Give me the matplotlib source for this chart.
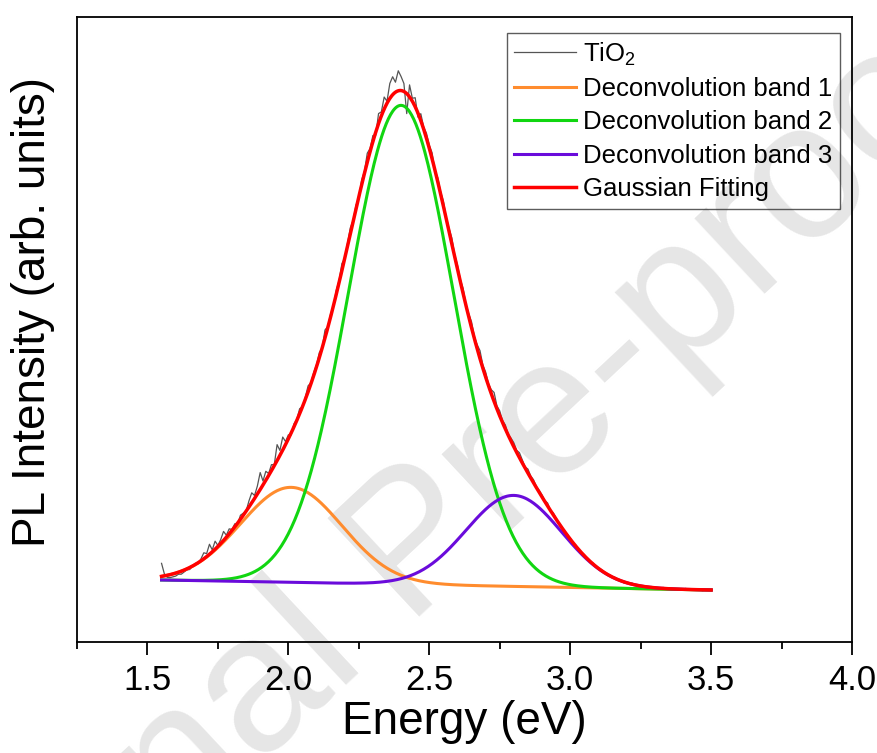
import numpy as np
import matplotlib
matplotlib.use('Agg')
import matplotlib.pyplot as plt
from matplotlib.ticker import MultipleLocator

plt.rcParams['font.family'] = ['Liberation Sans', 'DejaVu Sans']
plt.rcParams['mathtext.fontset'] = 'custom'
plt.rcParams['mathtext.rm'] = 'Liberation Sans'

# fitted gaussian bands (center eV, sigma eV, height a.u.)
band_labels = ['Deconvolution band 1', 'Deconvolution band 2', 'Deconvolution band 3']
band_colors = ['#FF8C2E', '#11D611', '#6A0BDB']
band_centers = [2.01, 2.40, 2.80]
band_sigmas = [0.18, 0.187, 0.17]
band_heights = [95, 479, 91]
# linear baseline at the start / end of the fitted range
fit_range = [1.55, 3.50]
baseline_ends = [62, 52]

# measured spectrum: deviation from fit every 0.01 eV, from 1.55 eV
residuals = [
    13, 2, -2, -3, -3,
    -3, -2, -3, -2, -1, -2, 0, 1, -1, 2,
    6, 3, 10, 2, 8, 1, 4, 9, 2, 5,
    1, 3, -1, 4, 2, 0, 6, 10, 3, 8,
    17, 4, 9, 2, 6, 1, 16, 5, 13, 3,
    4, -2, 3, 1, 5, 0, 2, 6, 1, 3,
    2, 5, 0, 8, 1, 3, -1, 4, 2, 7,
    0, 3, 6, 1, 4, -2, 5, 2, 9, 3,
    6, -3, 10, 4, 12, 2, 15, 18, 10, 20,
    14, 8, -20, 12, 3, 9, -4, 7, 2, 5,
    3, 6, -1, 4, 2, 5, 1, 3, 6, 2,
    4, 2, 5, 1, 3, 6, 2, 4, 8, 3,
    5, 2, 4, 9, 3, 5, 2, 4, 1, 3,
    4, 2, 5, 3, 1, 4, 2, 3, 1, 2,
    2, 1, 3, 0, 2, 1, 0, 1, 0, 1,
    1, 0, 1, -1, 0, 1, 0, -1, 1, 0,
    0, 1, 0, -1, 0, 0, 1, 0, 0, -1,
    0, 0, 1, 0, 0, 0, -1, 0, 0, 1,
    0, 0, 0, 1, 0, 0, -1, 0, 0, 0,
    0, 1, 0, 0, 0, 0, 0, -1, 0, 0, 0,
]


def baseline(e):
    return np.interp(e, fit_range, baseline_ends)


def band(e, i):
    return band_heights[i] * np.exp(-(e - band_centers[i]) ** 2 / (2 * band_sigmas[i] ** 2))


def total(e):
    return baseline(e) + sum(band(e, i) for i in range(3))


energy = np.linspace(fit_range[0], fit_range[1], 500)
e_meas = fit_range[0] + 0.01 * np.arange(len(residuals))
pl_meas = total(e_meas) + np.array(residuals)

fig = plt.figure(figsize=(8.78, 7.53), dpi=100)
ax = fig.add_axes([77 / 878, (753 - 642) / 753, (852 - 77) / 878, (642 - 17) / 753])

# watermark of the preprint (behind everything)
fig.text(0.475, 0.27, 'Journal Pre-proof', color='#e6e6e6', fontsize=140,
         rotation=43, ha='center', va='center', rotation_mode='anchor', zorder=-5)
ax.patch.set_alpha(0)

ax.plot(e_meas, pl_meas, color='#555555', lw=0.9, label='TiO$_{\\mathregular{2}}$', zorder=2)
for i in [0, 1, 2]:
    ax.plot(energy, baseline(energy) + band(energy, i), color=band_colors[i], lw=2.2,
            label=band_labels[i], zorder=3)
ax.plot(energy, total(energy), color='#FF0000', lw=2.5, label='Gaussian Fitting', zorder=4)

ax.set_xlim(1.25, 4.0)
ax.set_ylim(0, 625)
ax.xaxis.set_major_locator(MultipleLocator(0.5))
ax.xaxis.set_minor_locator(MultipleLocator(0.25))
ax.tick_params(axis='x', which='major', direction='out', length=9, width=1.3, labelsize=25, pad=7)
ax.tick_params(axis='x', which='minor', direction='out', length=5, width=1.3)
ax.set_xticks([1.5, 2.0, 2.5, 3.0, 3.5, 4.0])
ax.set_yticks([])
for s in ax.spines.values():
    s.set_linewidth(1.3)

ax.set_xlabel('Energy (eV)', fontsize=33, labelpad=2)
ax.set_ylabel('PL Intensity (arb. units)', fontsize=33)
ax.yaxis.set_label_coords(-0.028, 0.528)

leg = ax.legend(loc='upper right', bbox_to_anchor=(0.9845, 0.975), fontsize=18.5, frameon=True,
                fancybox=False, edgecolor='#333333', facecolor='none', handlelength=2.4,
                handletextpad=0.27, labelspacing=0.36, borderpad=0.3, borderaxespad=0)
leg.get_frame().set_linewidth(1.0)

fig.savefig('out.png', dpi=100)
